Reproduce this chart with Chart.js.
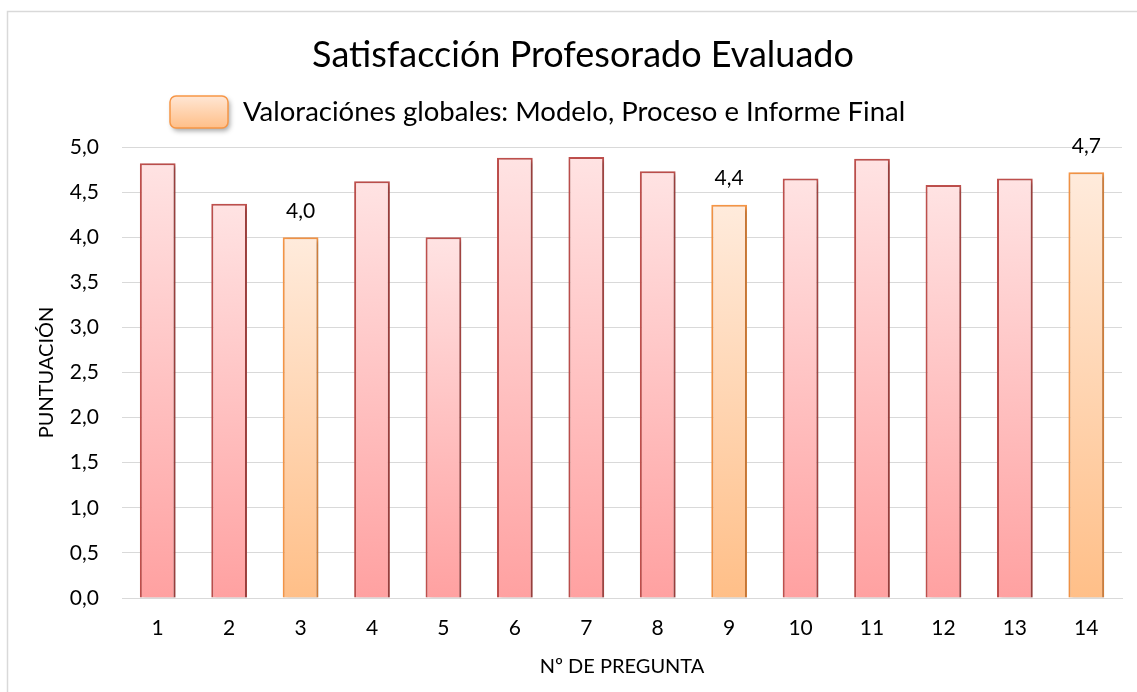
<!DOCTYPE html>
<html><head><meta charset="utf-8">
<script src="https://cdn.jsdelivr.net/npm/chart.js@4.4.1/dist/chart.umd.min.js"></script>
<style>html,body{margin:0;padding:0;background:#fff;}#wrap{width:1137px;height:692px;}</style>
</head><body><div id="wrap"><canvas id="c" width="1137" height="692"></canvas></div>
<script>
const categories = ['1','2','3','4','5','6','7','8','9','10','11','12','13','14'];
const scores = [4.82, 4.37, 4.00, 4.62, 4.00, 4.88, 4.89, 4.73, 4.36, 4.65, 4.87, 4.58, 4.65, 4.72];
const globalItems = ['3', '9', '14'];
const yMin = 0, yMax = 5, yStep = 0.5;
const chartTitle = 'Satisfacción Profesorado Evaluado';
const legendLabel = 'Valoraciónes globales: Modelo, Proceso e Informe Final';
const xAxisTitle = 'Nº DE PREGUNTA';
const yAxisTitle = 'PUNTUACIÓN';

const FONT = 'Lato, "Noto Sans", sans-serif';
const isGlobal = i => globalItems.includes(categories[i]);
const fmt = v => v.toFixed(1).replace('.', ',');

function barFill(ctx) {
  const chart = ctx.chart, i = ctx.dataIndex;
  const ys = chart.scales.y;
  const g = isGlobal(i);
  if (!ys || !chart.chartArea || i === undefined) return g ? '#FFD2AC' : '#FFC4C4';
  const top = ys.getPixelForValue(scores[i]), bot = ys.getPixelForValue(0);
  const grad = chart.ctx.createLinearGradient(0, top, 0, bot);
  if (g) { grad.addColorStop(0, '#FFEBDC'); grad.addColorStop(1, '#FFBF88'); }
  else { grad.addColorStop(0, '#FFE3E3'); grad.addColorStop(1, '#FFA1A1'); }
  return grad;
}

const decor = {
  id: 'decor',
  beforeDraw(chart) {
    const c = chart.ctx;
    c.save();
    c.fillStyle = '#fff';
    c.fillRect(0, 0, chart.width, chart.height);
    c.strokeStyle = '#D9D9D9';
    c.lineWidth = 1.5;
    c.strokeRect(7.5, 11.5, chart.width + 20, chart.height + 20);
    c.restore();
  },
  beforeDatasetsDraw(chart) {
    const c = chart.ctx;
    c.save();
    c.shadowColor = 'rgba(0,0,0,0.28)';
    c.shadowBlur = 4;
    c.shadowOffsetX = 2;
    c.shadowOffsetY = 2;
  },
  afterDatasetsDraw(chart) {
    const c = chart.ctx;
    c.restore();
    const meta = chart.getDatasetMeta(0);
    c.save();
    c.font = '21px ' + FONT;
    c.fillStyle = '#000';
    c.textAlign = 'center';
    c.textBaseline = 'middle';
    meta.data.forEach((bar, i) => {
      if (isGlobal(i)) c.fillText(fmt(scores[i]), bar.x, bar.y - 26);
    });
    c.restore();
  },
  afterDraw(chart) {
    const c = chart.ctx;
    c.save();
    c.font = '36px ' + FONT;
    c.fillStyle = '#000';
    c.textAlign = 'center';
    c.textBaseline = 'middle';
    c.fillText(chartTitle, 583, 55);
    const bx = 170, by = 96, bw = 58, bh = 32, r = 6;
    c.save();
    c.shadowColor = 'rgba(0,0,0,0.35)';
    c.shadowBlur = 5; c.shadowOffsetX = 2; c.shadowOffsetY = 3;
    const grad = c.createLinearGradient(0, by, 0, by + bh);
    grad.addColorStop(0, '#FFE6D4'); grad.addColorStop(1, '#FFBF88');
    c.beginPath();
    c.roundRect(bx, by, bw, bh, r);
    c.fillStyle = grad;
    c.fill();
    c.restore();
    c.beginPath();
    c.roundRect(bx, by, bw, bh, r);
    c.strokeStyle = '#F79646';
    c.lineWidth = 1.5;
    c.stroke();
    c.font = '27.5px ' + FONT;
    c.textAlign = 'left';
    c.fillStyle = '#000';
    c.fillText(legendLabel, 243, 112);
    c.restore();
  }
};

new Chart(document.getElementById('c'), {
  type: 'bar',
  data: {
    labels: categories,
    datasets: [{
      label: legendLabel,
      data: scores,
      backgroundColor: barFill,
      borderColor: ctx => isGlobal(ctx.dataIndex) ? '#F79646' : '#C0504D',
      borderWidth: 2,
      barPercentage: 0.5,
      categoryPercentage: 1.0
    }]
  },
  plugins: [decor],
  options: {
    responsive: false,
    animation: false,
    layout: { padding: { left: 14, right: 15, top: 147, bottom: 10 } },
    plugins: { legend: { display: false }, title: { display: false }, tooltip: { enabled: false } },
    scales: {
      x: {
        afterFit: s => { s.height = 84; },
        grid: { display: false, drawTicks: false },
        border: { display: true, color: '#D9D9D9', width: 1 },
        ticks: { color: '#000', font: { family: FONT, size: 21 }, padding: 18 },
        title: { display: true, text: xAxisTitle, color: '#000', font: { family: FONT, size: 20 }, padding: { top: 0, bottom: 3 } }
      },
      y: {
        min: yMin, max: yMax,
        afterFit: s => { s.width = 108; },
        grid: { color: '#D9D9D9', lineWidth: 1, drawTicks: false },
        border: { display: false },
        ticks: { stepSize: yStep, color: '#000', font: { family: FONT, size: 21 }, padding: 23, callback: v => fmt(v) },
        title: { display: true, text: yAxisTitle, color: '#000', font: { family: FONT, size: 20 }, padding: { top: 21, bottom: 0 } }
      }
    }
  }
});
</script></body></html>
